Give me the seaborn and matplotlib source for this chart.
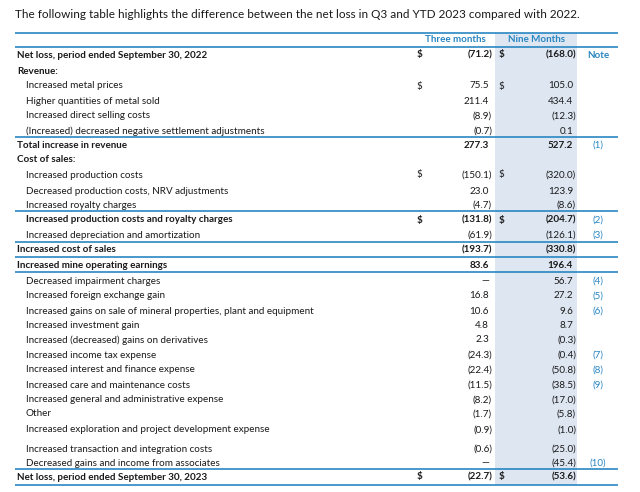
import matplotlib
matplotlib.use("Agg")
import matplotlib.pyplot as plt
import seaborn as sns

# table content
labels = [
    "Net loss, period ended September 30, 2022",
    "Revenue:",
    "Increased metal prices",
    "Higher quantities of metal sold",
    "Increased direct selling costs",
    "(Increased) decreased negative settlement adjustments",
    "Total increase in revenue",
    "Cost of sales:",
    "Increased production costs",
    "Decreased production costs, NRV adjustments",
    "Increased royalty charges",
    "Increased production costs and royalty charges",
    "Increased depreciation and amortization",
    "Increased cost of sales",
    "Increased mine operating earnings",
    "Decreased impairment charges",
    "Increased foreign exchange gain",
    "Increased gains on sale of mineral properties, plant and equipment",
    "Increased investment gain",
    "Increased (decreased) gains on derivatives",
    "Increased income tax expense",
    "Increased interest and finance expense",
    "Increased care and maintenance costs",
    "Increased general and administrative expense",
    "Other",
    "Increased exploration and project development expense",
    "Increased transaction and integration costs",
    "Decreased gains and income from associates",
    "Net loss, period ended September 30, 2023",
]
three_months = [-71.2, None, 75.5, 211.4, -8.9, -0.7, 277.3, None, -150.1, 23.0, -4.7,
                -131.8, -61.9, -193.7, 83.6, 0.0, 16.8, 10.6, 4.8, 2.3, -24.3, -22.4,
                -11.5, -8.2, -1.7, -0.9, -0.6, 0.0, -22.7]
nine_months = [-168.0, None, 105.0, 434.4, -12.3, 0.1, 527.2, None, -320.0, 123.9, -8.6,
               -204.7, -126.1, -330.8, 196.4, 56.7, 27.2, 9.6, 8.7, -0.3, -0.4, -50.8,
               -38.5, -17.0, -5.8, -1.0, -25.0, -45.4, -53.6]
notes = ["Note", "", "", "", "", "", "(1)", "", "", "", "", "(2)", "(3)", "", "", "(4)",
         "(5)", "(6)", "", "", "(7)", "(8)", "(9)", "", "", "", "", "(10)", ""]
title = "The following table highlights the difference between the net loss in Q3 and YTD 2023 compared with 2022."
col_headers = ["Three months", "Nine Months"]

# layout
bold_rows = {0, 1, 6, 7, 11, 13, 14, 28}
flush_rows = {0, 1, 6, 7, 13, 14, 28}
dollar_rows = {0, 2, 8, 11, 28}
row_y = [55, 72, 86, 101, 116, 131, 145, 159, 175, 191, 205, 220, 235, 250, 266,
         281, 296, 311, 326, 340, 355, 370, 385, 400, 414, 430, 449, 463, 477]
rule_y = [33, 47, 137, 211, 242, 257, 272, 469, 485]

BLUE = "#2a86c2"
TEXT = "#1a1a1a"
SHADE = "#dde6f1"
FS = 7.1

sns.set_theme(style="white")
plt.rcParams["font.family"] = ["Lato", "DejaVu Sans"]

fig = plt.figure(figsize=(6.4, 4.92), dpi=100)
ax = fig.add_axes([0, 0, 1, 1])
ax.set_xlim(0, 640)
ax.set_ylim(492, 0)
ax.axis("off")

ax.axvspan(495, 577, ymin=1 - 485 / 492, ymax=1 - 33 / 492, color=SHADE, lw=0)
for y in rule_y:
    ax.plot([15, 618], [y, y], color=BLUE, lw=1.2, solid_capstyle="butt")

ax.text(15, 15, title, fontsize=8.5, color=TEXT, va="center", ha="left")
ax.text(455, 40, col_headers[0], fontsize=FS, color=BLUE, weight="bold", va="center", ha="center")
ax.text(537, 40, col_headers[1], fontsize=FS, color=BLUE, weight="bold", va="center", ha="center")


def fmt(v):
    if v == 0:
        return "\u2014", 3
    if v < 0:
        return f"({-v:.1f})", 0
    return f"{v:.1f}", 3


for i, lab in enumerate(labels):
    y = row_y[i]
    w = "bold" if i in bold_rows else "normal"
    x0 = 17 if i in flush_rows else 26
    ax.text(x0, y, lab, fontsize=FS, color=TEXT, weight=w, va="center", ha="left")
    for v, xr in ((three_months[i], 492), (nine_months[i], 576)):
        if v is None:
            continue
        s, off = fmt(v)
        ax.text(xr - off, y, s, fontsize=FS, color=TEXT, weight=w, va="center", ha="right")
    if i in dollar_rows:
        ax.text(419, y, "$", fontsize=FS, color=TEXT, weight=w, va="center", ha="center")
        ax.text(501, y, "$", fontsize=FS, color=TEXT, weight=w, va="center", ha="center")
    if notes[i]:
        nw = "bold" if notes[i] == "Note" else "normal"
        ax.text(598, y, notes[i], fontsize=FS, color=BLUE, weight=nw, va="center", ha="center")

fig.savefig("out.png", dpi=100)
